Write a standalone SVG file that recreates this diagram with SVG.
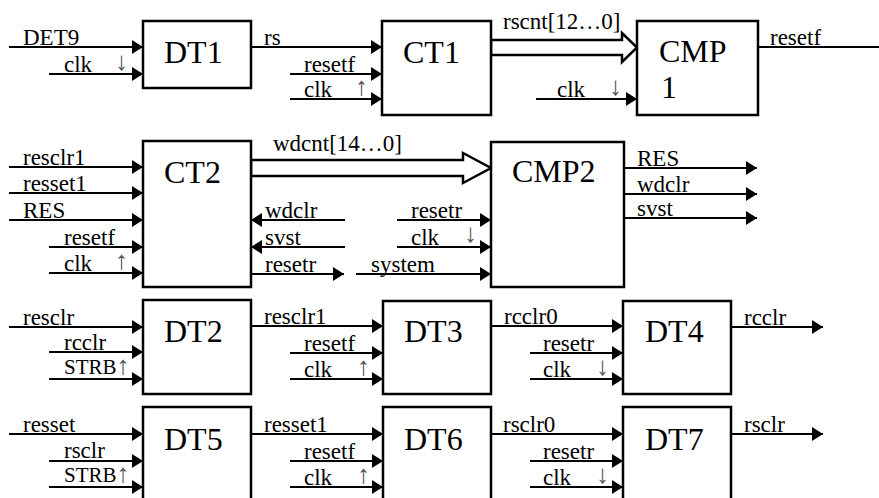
<svg xmlns="http://www.w3.org/2000/svg" width="879" height="498" viewBox="0 0 879 498">
<style>
.box{fill:#fff;stroke:#000;stroke-width:2.5}
.ln{stroke:#000;stroke-width:2;fill:none}
.bus{stroke:#000;stroke-width:2.5;fill:#fff;stroke-linejoin:miter}
text{font-family:"Liberation Serif", "DejaVu Serif", "Times New Roman", serif}
.lb{font-size:23px;fill:#000}
.sm{font-size:21px;fill:#000}
.tt{font-size:32px;fill:#000}
.ar{font-size:26px;fill:#555}
</style>
<defs>
<marker id="ah" markerUnits="userSpaceOnUse" markerWidth="11" markerHeight="14" refX="11" refY="7" orient="auto">
<path d="M0,0 L11,7 L0,14 z" fill="#000"/>
</marker>
</defs>
<rect width="879" height="498" fill="#fff"/>

<g id="connectors">
<line class="ln" x1="9" y1="47" x2="143" y2="47" marker-end="url(#ah)"/>
<line class="ln" x1="49" y1="74" x2="143" y2="74" marker-end="url(#ah)"/>
<line class="ln" x1="251" y1="47" x2="382" y2="47" marker-end="url(#ah)"/>
<line class="ln" x1="290" y1="74" x2="382" y2="74" marker-end="url(#ah)"/>
<line class="ln" x1="290" y1="99" x2="382" y2="99" marker-end="url(#ah)"/>
<polygon class="bus" points="491,40 622,40 622,33 637,47.5 622,62 622,55 491,55"/>
<line class="ln" x1="536" y1="99" x2="637" y2="99" marker-end="url(#ah)"/>
<line class="ln" x1="758" y1="47" x2="879" y2="47"/>
<line class="ln" x1="9" y1="167" x2="143" y2="167" marker-end="url(#ah)"/>
<line class="ln" x1="9" y1="193" x2="143" y2="193" marker-end="url(#ah)"/>
<line class="ln" x1="9" y1="220" x2="143" y2="220" marker-end="url(#ah)"/>
<line class="ln" x1="49" y1="247" x2="143" y2="247" marker-end="url(#ah)"/>
<line class="ln" x1="49" y1="273" x2="143" y2="273" marker-end="url(#ah)"/>
<polygon class="bus" points="251,160 463,160 463,153 491,168 463,183 463,176 251,176"/>
<line class="ln" x1="345" y1="220" x2="251" y2="220" marker-end="url(#ah)"/>
<line class="ln" x1="345" y1="247" x2="251" y2="247" marker-end="url(#ah)"/>
<line class="ln" x1="251" y1="274" x2="344" y2="274" marker-end="url(#ah)"/>
<line class="ln" x1="397" y1="220" x2="491" y2="220" marker-end="url(#ah)"/>
<line class="ln" x1="397" y1="247" x2="491" y2="247" marker-end="url(#ah)"/>
<line class="ln" x1="356" y1="274" x2="491" y2="274" marker-end="url(#ah)"/>
<line class="ln" x1="624" y1="168" x2="757" y2="168" marker-end="url(#ah)"/>
<line class="ln" x1="624" y1="194" x2="757" y2="194" marker-end="url(#ah)"/>
<line class="ln" x1="624" y1="218" x2="757" y2="218" marker-end="url(#ah)"/>
<line class="ln" x1="9" y1="327" x2="143" y2="327" marker-end="url(#ah)"/>
<line class="ln" x1="49" y1="352" x2="143" y2="352" marker-end="url(#ah)"/>
<line class="ln" x1="49" y1="379" x2="143" y2="379" marker-end="url(#ah)"/>
<line class="ln" x1="251" y1="326" x2="383" y2="326" marker-end="url(#ah)"/>
<line class="ln" x1="290" y1="353" x2="383" y2="353" marker-end="url(#ah)"/>
<line class="ln" x1="290" y1="379" x2="383" y2="379" marker-end="url(#ah)"/>
<line class="ln" x1="491" y1="326" x2="623" y2="326" marker-end="url(#ah)"/>
<line class="ln" x1="530" y1="353" x2="623" y2="353" marker-end="url(#ah)"/>
<line class="ln" x1="530" y1="379" x2="623" y2="379" marker-end="url(#ah)"/>
<line class="ln" x1="731" y1="327" x2="823" y2="327" marker-end="url(#ah)"/>
<line class="ln" x1="9" y1="434" x2="143" y2="434" marker-end="url(#ah)"/>
<line class="ln" x1="49" y1="461" x2="143" y2="461" marker-end="url(#ah)"/>
<line class="ln" x1="49" y1="487" x2="143" y2="487" marker-end="url(#ah)"/>
<line class="ln" x1="251" y1="434" x2="383" y2="434" marker-end="url(#ah)"/>
<line class="ln" x1="290" y1="461" x2="383" y2="461" marker-end="url(#ah)"/>
<line class="ln" x1="290" y1="487" x2="383" y2="487" marker-end="url(#ah)"/>
<line class="ln" x1="491" y1="434" x2="623" y2="434" marker-end="url(#ah)"/>
<line class="ln" x1="530" y1="461" x2="623" y2="461" marker-end="url(#ah)"/>
<line class="ln" x1="530" y1="487" x2="623" y2="487" marker-end="url(#ah)"/>
<line class="ln" x1="731" y1="434" x2="823" y2="434" marker-end="url(#ah)"/>
</g>

<g id="labels">
<text class="lb" x="23" y="45">DET9</text>
<text class="lb" x="64" y="72">clk</text><text class="ar" x="115" y="70">↓</text>
<text class="lb" x="264" y="45">rs</text>
<text class="lb" x="304" y="72">resetf</text>
<text class="lb" x="304" y="97">clk</text><text class="ar" x="355" y="95">↑</text>
<text class="lb" x="503" y="29">rscnt[12…0]</text>
<text class="lb" x="557" y="97">clk</text><text class="ar" x="609" y="95">↓</text>
<text class="lb" x="770" y="45">resetf</text>

<text class="lb" x="23" y="165">resclr1</text>
<text class="lb" x="23" y="191">resset1</text>
<text class="lb" x="23" y="218">RES</text>
<text class="lb" x="64" y="245">resetf</text>
<text class="lb" x="64" y="271">clk</text><text class="ar" x="115" y="269">↑</text>
<text class="lb" x="273" y="151">wdcnt[14…0]</text>
<text class="lb" x="265" y="218">wdclr</text>
<text class="lb" x="265" y="245">svst</text>
<text class="lb" x="265" y="272">resetr</text>
<text class="lb" x="411" y="218">resetr</text>
<text class="lb" x="411" y="245">clk</text><text class="ar" x="464" y="242">↓</text>
<text class="lb" x="371" y="272">system</text>
<text class="lb" x="637" y="166">RES</text>
<text class="lb" x="637" y="192">wdclr</text>
<text class="lb" x="637" y="216">svst</text>

<text class="lb" x="23" y="325">resclr</text>
<text class="lb" x="64" y="350">rcclr</text>
<text class="sm" x="64" y="374">STRB<tspan class="ar" font-size="22">↑</tspan></text>
<text class="lb" x="264" y="324">resclr1</text>
<text class="lb" x="304" y="351">resetf</text>
<text class="lb" x="304" y="377">clk</text><text class="ar" x="357" y="375">↑</text>
<text class="lb" x="504" y="324">rcclr0</text>
<text class="lb" x="543" y="351">resetr</text>
<text class="lb" x="543" y="377">clk</text><text class="ar" x="596" y="375">↓</text>
<text class="lb" x="744" y="325">rcclr</text>

<text class="lb" x="23" y="432">resset</text>
<text class="lb" x="64" y="458">rsclr</text>
<text class="sm" x="64" y="482">STRB<tspan class="ar" font-size="22">↑</tspan></text>
<text class="lb" x="264" y="432">resset1</text>
<text class="lb" x="304" y="459">resetf</text>
<text class="lb" x="304" y="485">clk</text><text class="ar" x="357" y="483">↑</text>
<text class="lb" x="503" y="432">rsclr0</text>
<text class="lb" x="543" y="459">resetr</text>
<text class="lb" x="543" y="485">clk</text><text class="ar" x="596" y="483">↓</text>
<text class="lb" x="744" y="432">rsclr</text>
</g>

<g id="DT1"><rect class="box" x="143" y="21" width="108" height="67"/><text class="tt" x="164" y="63">DT1</text></g>
<g id="CT1"><rect class="box" x="382" y="21" width="109" height="94"/><text class="tt" x="403" y="63">CT1</text></g>
<g id="CMP1"><rect class="box" x="637" y="21" width="121" height="94"/><text class="tt" x="659" y="62">CMP</text><text class="tt" x="661" y="98">1</text></g>
<g id="CT2"><rect class="box" x="143" y="141" width="108" height="146"/><text class="tt" x="164" y="183">CT2</text></g>
<g id="CMP2"><rect class="box" x="491" y="142" width="133" height="145"/><text class="tt" x="512" y="182">CMP2</text></g>
<g id="DT2"><rect class="box" x="143" y="300" width="108" height="94"/><text class="tt" x="164" y="342">DT2</text></g>
<g id="DT3"><rect class="box" x="383" y="301" width="108" height="93"/><text class="tt" x="404" y="342">DT3</text></g>
<g id="DT4"><rect class="box" x="623" y="301" width="108" height="93"/><text class="tt" x="645" y="342">DT4</text></g>
<g id="DT5"><rect class="box" x="143" y="407" width="108" height="100"/><text class="tt" x="164" y="450">DT5</text></g>
<g id="DT6"><rect class="box" x="383" y="407" width="108" height="100"/><text class="tt" x="404" y="450">DT6</text></g>
<g id="DT7"><rect class="box" x="623" y="407" width="108" height="100"/><text class="tt" x="645" y="450">DT7</text></g>
</svg>
